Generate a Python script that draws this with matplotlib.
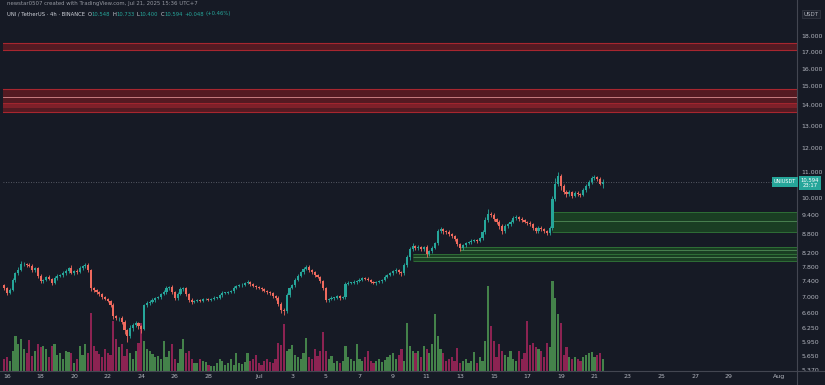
import matplotlib
matplotlib.use("Agg")
import matplotlib.pyplot as plt
from matplotlib.lines import Line2D
from matplotlib.ticker import FixedLocator, FixedFormatter, NullLocator

# UNI/USDT 4h, Binance. x in days counted from 1 Jun (Jul 1 = 31, Aug 1 = 62)
first_candle = 15 + 20 / 24  # 15 Jun 20:00
first_open = 7.30

closes = [
    7.22, 7.10, 7.17, 7.44, 7.62, 7.71, 7.88, 7.88, 7.85, 7.82,
    7.71, 7.77, 7.55, 7.41, 7.44, 7.52, 7.47, 7.36, 7.49, 7.55,
    7.57, 7.62, 7.68, 7.77, 7.62, 7.68, 7.65, 7.77, 7.82, 7.85,
    7.71, 7.22, 7.17, 7.12, 7.07, 6.99, 6.94, 6.90, 6.79, 6.52,
    6.48, 6.48, 6.39, 6.20, 6.07, 6.25, 6.32, 6.36, 6.30, 6.23,
    6.79, 6.85, 6.88, 6.92, 6.97, 6.99, 7.07, 7.12, 7.22, 7.25,
    7.12, 6.97, 7.07, 7.20, 7.22, 7.07, 6.92, 6.87, 6.90, 6.92,
    6.90, 6.94, 6.94, 6.92, 6.94, 6.97, 6.97, 7.04, 7.10, 7.10,
    7.12, 7.14, 7.22, 7.27, 7.30, 7.30, 7.36, 7.38, 7.33, 7.27,
    7.25, 7.22, 7.20, 7.14, 7.12, 7.10, 7.02, 6.97, 6.83, 6.67,
    6.65, 7.04, 7.22, 7.30, 7.44, 7.55, 7.65, 7.74, 7.80, 7.71,
    7.65, 7.57, 7.52, 7.41, 7.22, 6.92, 6.94, 6.97, 6.97, 7.02,
    6.97, 6.99, 7.33, 7.36, 7.36, 7.38, 7.41, 7.44, 7.49, 7.47,
    7.44, 7.38, 7.36, 7.38, 7.41, 7.44, 7.52, 7.57, 7.62, 7.68,
    7.71, 7.65, 7.62, 7.85, 8.08, 8.32, 8.41, 8.35, 8.38, 8.32,
    8.38, 8.17, 8.26, 8.35, 8.50, 8.87, 8.94, 8.87, 8.85, 8.78,
    8.72, 8.63, 8.47, 8.35, 8.44, 8.50, 8.53, 8.57, 8.60, 8.57,
    8.66, 8.85, 9.24, 9.44, 9.41, 9.27, 9.18, 9.05, 8.87, 9.05,
    9.11, 9.18, 9.30, 9.34, 9.27, 9.24, 9.18, 9.14, 9.11, 8.98,
    8.87, 8.98, 8.94, 8.87, 8.81, 8.98, 9.96, 10.55, 10.83, 10.45,
    10.23, 10.15, 10.23, 10.09, 10.20, 10.15, 10.12, 10.30, 10.45, 10.60,
    10.76, 10.80, 10.72, 10.548, 10.594,
]

# wick lengths above / below the body, in cents
wick_up = [
    4, 3, 5, 6, 4, 8, 9, 5, 4, 6,
    5, 3, 4, 5, 3, 4, 6, 3, 5, 4,
    4, 6, 5, 3, 8, 4, 5, 6, 4, 7,
    5, 3, 4, 3, 2, 3, 4, 2, 3, 5,
    4, 3, 6, 5, 3, 8, 4, 5, 4, 3,
    4, 5, 3, 4, 3, 4, 3, 5, 6, 4,
    5, 3, 4, 6, 4, 3, 3, 4, 3, 2,
    3, 2, 3, 2, 3, 4, 3, 2, 4, 3,
    3, 4, 5, 3, 4, 6, 3, 5, 3, 4,
    3, 4, 2, 3, 4, 3, 2, 3, 4, 3,
    4, 5, 3, 4, 5, 4, 3, 5, 6, 4,
    3, 4, 3, 4, 3, 4, 3, 4, 3, 2,
    3, 2, 5, 4, 3, 6, 3, 5, 4, 3,
    4, 3, 2, 3, 4, 3, 5, 4, 3, 4,
    5, 3, 4, 5, 6, 5, 8, 4, 5, 4,
    4, 5, 4, 6, 5, 9, 6, 5, 4, 5,
    4, 5, 4, 5, 4, 3, 4, 5, 4, 3,
    4, 5, 10, 18, 6, 7, 5, 6, 5, 6,
    5, 6, 8, 7, 5, 6, 5, 4, 6, 5,
    4, 6, 5, 4, 5, 8, 12, 20, 17, 9,
    8, 6, 7, 5, 6, 5, 6, 8, 7, 9,
    10, 8, 6, 7, 14,
]
wick_dn = [
    5, 6, 4, 3, 5, 4, 3, 5, 4, 3,
    4, 5, 6, 4, 5, 3, 4, 6, 3, 4,
    3, 4, 5, 4, 3, 5, 4, 3, 5, 4,
    5, 6, 4, 5, 4, 5, 3, 4, 5, 6,
    5, 6, 4, 8, 12, 5, 6, 4, 7, 8,
    3, 4, 5, 3, 4, 3, 4, 3, 4, 5,
    4, 5, 6, 3, 4, 5, 6, 4, 3, 4,
    3, 4, 3, 2, 3, 3, 2, 3, 4, 3,
    3, 2, 4, 3, 3, 4, 3, 4, 5, 3,
    4, 3, 4, 3, 4, 5, 4, 6, 5, 8,
    10, 4, 5, 3, 4, 3, 4, 5, 4, 5,
    4, 5, 4, 6, 5, 6, 4, 3, 4, 3,
    4, 3, 4, 3, 4, 3, 4, 3, 4, 3,
    4, 3, 4, 5, 3, 4, 3, 4, 3, 4,
    4, 5, 6, 5, 4, 8, 6, 5, 7, 6,
    5, 8, 6, 5, 4, 6, 5, 7, 6, 5,
    6, 5, 7, 8, 5, 6, 4, 5, 4, 5,
    4, 6, 6, 5, 7, 6, 8, 10, 7, 6,
    6, 5, 4, 6, 5, 6, 5, 6, 5, 7,
    6, 5, 7, 6, 5, 6, 8, 6, 10, 14,
    8, 9, 7, 8, 6, 7, 6, 5, 6, 7,
    6, 7, 8, 6, 15,
]

volumes = [
    12, 14, 10, 20, 35, 27, 32, 22, 18, 31,
    15, 20, 27, 24, 25, 22, 14, 25, 27, 16,
    18, 12, 20, 19, 18, 8, 12, 25, 16, 27,
    18, 58, 25, 20, 17, 14, 22, 18, 16, 50,
    32, 24, 27, 15, 22, 18, 12, 20, 28, 48,
    30, 22, 20, 17, 14, 15, 12, 30, 14, 20,
    27, 12, 8, 22, 32, 18, 20, 12, 8, 8,
    12, 10, 9, 6, 5, 5, 8, 12, 10, 6,
    8, 12, 6, 18, 8, 7, 9, 18, 10, 12,
    16, 8, 6, 10, 12, 9, 8, 12, 28, 26,
    47, 20, 22, 26, 16, 14, 12, 18, 33, 14,
    12, 22, 15, 20, 39, 20, 12, 15, 8, 10,
    8, 10, 25, 14, 12, 10, 27, 12, 10, 14,
    20, 10, 8, 10, 12, 9, 11, 14, 16, 18,
    12, 16, 22, 10, 48, 25, 20, 18, 20, 14,
    25, 22, 18, 27, 57, 35, 22, 18, 10, 12,
    14, 10, 23, 8, 10, 12, 8, 10, 19, 8,
    14, 10, 30, 85, 45, 30, 14, 27, 20, 16,
    14, 20, 12, 10, 20, 12, 18, 50, 26, 28,
    24, 22, 20, 14, 28, 24, 90, 73, 57, 48,
    16, 24, 14, 12, 14, 12, 10, 14, 16, 18,
    19, 14, 16, 18, 12,
]

# supply / demand zones (low, high, mid line, start day)
red_zones = [(17.08, 17.55, None, None), (13.66, 14.86, 14.43, None)]
green_zones = [(8.85, 9.51, 9.21, 48.5), (8.17, 8.38, 8.29, 43.0), (7.97, 8.17, 8.08, 40.2)]

price_ticks = [18, 17, 16, 15, 14, 13, 12, 11, 10, 9.4, 8.8, 8.2, 7.8, 7.4, 7.0, 6.6, 6.25, 5.95, 5.65, 5.37]
date_ticks = [16, 18, 20, 22, 24, 26, 28, 31, 33, 35, 37, 39, 41, 43, 45, 47, 49, 51, 53, 55, 57, 59, 62]
date_labels = ["16", "18", "20", "22", "24", "26", "28", "Jul", "3", "5", "7", "9", "11", "13",
               "15", "17", "19", "21", "23", "25", "27", "29", "Aug"]

bg = "#161a25"
up_col = "#26a69a"
dn_col = "#ef6a5e"
vol_up = "#44824a"
vol_dn = "#8c2352"
txt = "#b2b5be"
line_col = "#434651"

fig = plt.figure(figsize=(8.25, 3.85), dpi=100, facecolor=bg)
pos = [3 / 825, 14 / 385, 794 / 825, 363 / 385]

# volume pane underneath
vax = fig.add_axes(pos)
vax.set_facecolor("none")
vax.axis("off")

ax = fig.add_axes(pos, sharex=vax)
ax.set_facecolor("none")

times = [first_candle + i / 6 for i in range(len(closes))]
opens = [first_open] + closes[:-1]

vcolors = []
for t, o, c, wu, wd in zip(times, opens, closes, wick_up, wick_dn):
    col = up_col if c >= o else dn_col
    vcolors.append(vol_up if c >= o else vol_dn)
    lo_b, hi_b = min(o, c), max(o, c)
    ax.vlines(t, lo_b - wd / 100, hi_b + wu / 100, color=col, lw=0.6, zorder=3)
    ax.bar(t, max(hi_b - lo_b, 0.012), bottom=lo_b, width=0.125, color=col, lw=0, zorder=4)

vax.bar(times, volumes, width=0.13, color=vcolors, lw=0)
vax.set_ylim(0, 363)

xmin, xmax = 15.76, 63.07
ax.set_xlim(xmin, xmax)
ax.set_yscale("log")
ax.set_ylim(5.35, 19.92)

for lo, hi, mid, start in red_zones:
    ax.axhspan(lo, hi, color="#5c1a22", alpha=0.9, lw=0, zorder=1)
    ax.axhline(lo, color="#a8262f", lw=0.8, zorder=2)
    ax.axhline(hi, color="#a8262f", lw=0.8, zorder=2)
    if mid:
        ax.axhline(mid, color="#d98c8f", lw=0.6, zorder=2)
        ax.axhspan(13.86, 14.12, color="#7e2029", lw=0, zorder=1)
        ax.axhline(14.12, color="#a8262f", lw=0.6, zorder=2)

for lo, hi, mid, start in green_zones:
    ax.fill_between([start, xmax], lo, hi, color="#1b4323", alpha=0.9, lw=0, zorder=1)
    ax.hlines([lo, hi], start, xmax, color="#2e6e36", lw=0.7, zorder=2)
    ax.hlines(mid, start, xmax, color="#5c9a62", lw=0.5, zorder=2)

# last price line
ax.axhline(closes[-1], color="#6a6d78", lw=0.6, ls=(0, (1, 2)), zorder=2)

ax.yaxis.tick_right()
ax.yaxis.set_major_locator(FixedLocator(price_ticks))
ax.yaxis.set_major_formatter(FixedFormatter([f"{v:.3f}" for v in price_ticks]))
ax.yaxis.set_minor_locator(NullLocator())
ax.xaxis.set_major_locator(FixedLocator(date_ticks))
ax.xaxis.set_major_formatter(FixedFormatter(date_labels))
ax.tick_params(axis="y", length=0, labelsize=4.5, labelcolor=txt, pad=3)
ax.tick_params(axis="x", length=0, labelsize=4.5, labelcolor=txt, pad=2.5)
for s in ax.spines.values():
    s.set_visible(False)

fig.add_artist(Line2D([0, 1], [14 / 385, 14 / 385], color=line_col, lw=0.8))
fig.add_artist(Line2D([797 / 825, 797 / 825], [0, 1], color=line_col, lw=0.8))

# header
fig.text(7 / 825, 1 - 4 / 385, "newstar0507 created with TradingView.com, Jul 21, 2025 15:36 UTC+7",
         fontsize=3.9, color="#9598a1", va="center")

# second header line: pieces placed one after another
renderer = fig.canvas.get_renderer()
hy = 1 - 14 / 385
pieces = [("UNI / TetherUS · 4h · BINANCE", "#d1d4dc", 2.5),
          ("O", "#d1d4dc", 0.3), ("10.548", up_col, 2.0),
          ("H", "#d1d4dc", 0.3), ("10.733", up_col, 2.0),
          ("L", "#d1d4dc", 0.3), ("10.400", up_col, 2.0),
          ("C", "#d1d4dc", 0.3), ("10.594", up_col, 2.0),
          ("+0.048", up_col, 1.5), ("(+0.46%)", up_col, 0)]
xp = 7
for s, col, gap in pieces:
    t = fig.text(xp / 825, hy, s, fontsize=3.8, color=col, va="center")
    xp = t.get_window_extent(renderer).x1 + gap

fig.text(811 / 825, 1 - 14 / 385, "USDT", fontsize=4, color=txt, ha="center", va="center",
         bbox=dict(boxstyle="square,pad=0.35", fc="#1e222d", ec="#363a45", lw=0.5))

# price label on the axis
fig.text(785 / 825, 1 - 182 / 385, "UNIUSDT", fontsize=3.6, color="white", ha="center", va="center",
         bbox=dict(boxstyle="square,pad=0.45", fc=up_col, ec="none"))
fig.text(810 / 825, 1 - 183 / 385, "10.594\n23:17", fontsize=3.8, color="white", ha="center",
         va="center", linespacing=1.1, bbox=dict(boxstyle="square,pad=0.3", fc=up_col, ec="none"))

fig.savefig("out.png", dpi=100, facecolor=bg)
